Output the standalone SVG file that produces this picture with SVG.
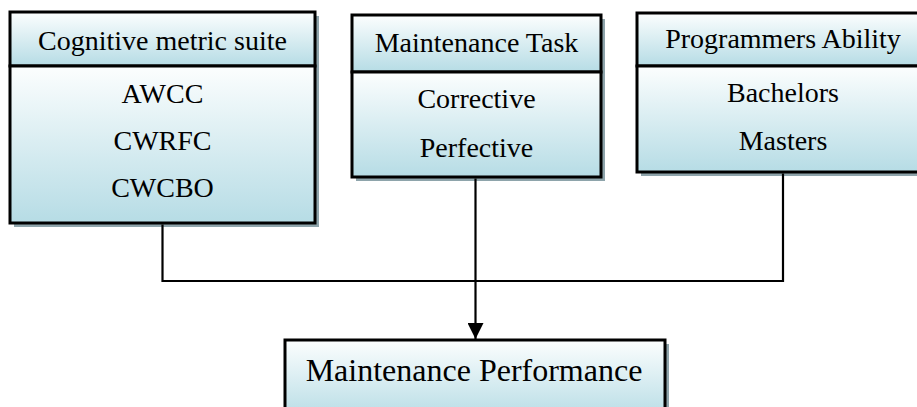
<svg xmlns="http://www.w3.org/2000/svg" width="917" height="407" viewBox="0 0 917 407">
<defs>
<linearGradient id="g" x1="0" y1="0" x2="0" y2="1">
<stop offset="0" stop-color="#fcfefe"/>
<stop offset="1" stop-color="#b6dce5"/>
</linearGradient>
<marker id="arr" markerWidth="16" markerHeight="16" viewBox="0 0 16 16" refX="16" refY="8" orient="auto" markerUnits="userSpaceOnUse">
<path d="M0,0 L16,8 L0,16 Z" fill="#000"/>
</marker>
<style>
.sh{fill:#8ea4ab;stroke:none}
.bx{fill:url(#g);stroke:#000;stroke-width:3}
.t{font-family:"Liberation Serif","Times New Roman",serif;font-size:28px;fill:#000;text-anchor:middle}
.big{font-size:32px}
.ln{fill:none;stroke:#000;stroke-width:2.2}
</style>
</defs>
<rect width="917" height="407" fill="#fff"/>
<g id="cognitive">
<rect class="sh" x="14" y="16" width="305" height="211"/>
<rect class="bx" x="10" y="12" width="305" height="54"/>
<rect class="bx" x="10" y="66" width="305" height="157"/>
<text class="t" x="162.5" y="50">Cognitive metric suite</text>
<text class="t" x="162.5" y="103">AWCC</text>
<text class="t" x="162.5" y="150">CWRFC</text>
<text class="t" x="162.5" y="197">CWCBO</text>
</g>
<g id="task">
<rect class="sh" x="356" y="19" width="249" height="162"/>
<rect class="bx" x="352" y="15" width="249" height="57"/>
<rect class="bx" x="352" y="72" width="249" height="105"/>
<text class="t" x="476.5" y="52">Maintenance Task</text>
<text class="t" x="476.5" y="108">Corrective</text>
<text class="t" x="476.5" y="157">Perfective</text>
</g>
<g id="ability">
<rect class="sh" x="641" y="17" width="292" height="159"/>
<rect class="bx" x="637" y="13" width="292" height="53"/>
<rect class="bx" x="637" y="66" width="292" height="106"/>
<text class="t" x="783" y="48">Programmers Ability</text>
<text class="t" x="783" y="102">Bachelors</text>
<text class="t" x="783" y="150">Masters</text>
</g>
<g id="performance">
<rect class="sh" x="289" y="344" width="380" height="80"/>
<rect class="bx" x="285" y="340" width="380" height="80"/>
<text class="t big" x="474" y="381">Maintenance Performance</text>
</g>
<g id="connectors">
<polyline class="ln" points="162.5,224.5 162.5,281 783,281 783,173.5"/>
<line class="ln" x1="475.5" y1="178.5" x2="475.5" y2="339" marker-end="url(#arr)" stroke-width="2.5"/>
</g>
</svg>
